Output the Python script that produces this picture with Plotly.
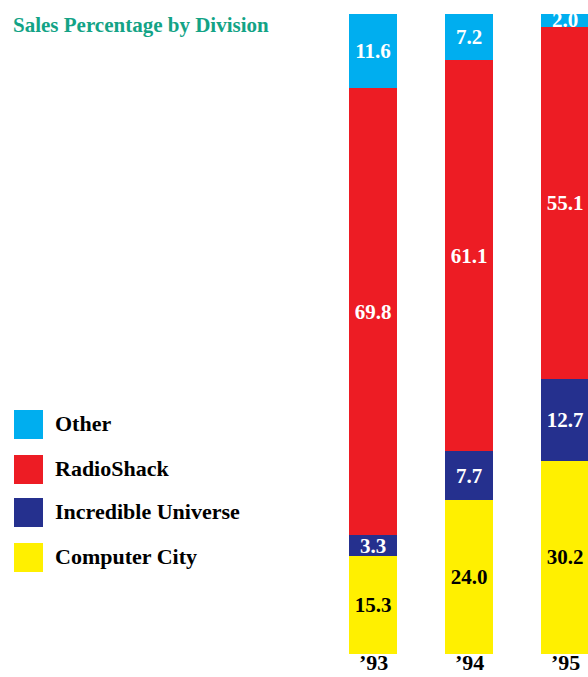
import plotly.graph_objects as go

years = ["’93", "’94", "’95"]
computer_city = [15.3, 24.0, 30.2]
incredible_universe = [3.3, 7.7, 12.7]
radioshack = [69.8, 61.1, 55.1]
other = [11.6, 7.2, 2.0]

series = [
    ("Computer City", computer_city, "#fff000", "black"),
    ("Incredible Universe", incredible_universe, "#25308e", "white"),
    ("RadioShack", radioshack, "#ed1c24", "white"),
    ("Other", other, "#00aeef", "white"),
]

FONT = "Liberation Serif, Times New Roman, serif"
W, H = 588, 677
T, B = 14, 23
plot_h = H - T - B

xs = list(range(len(years)))
fig = go.Figure()
for name, vals, color, tcolor in series:
    fig.add_trace(go.Bar(
        x=xs, y=vals, name=name, width=0.5,
        marker=dict(color=color, line=dict(width=0)),
        text=[f"{v:.1f}" for v in vals],
        textposition="inside", insidetextanchor="middle",
        constraintext="none",
        textfont=dict(family=FONT, size=21, color=tcolor, weight="bold"),
        cliponaxis=True, showlegend=False, hoverinfo="skip",
    ))

def py(p):
    return (H - B - p) / plot_h

# legend (drawn manually)
legend_items = [("Other", "#00aeef", 410), ("RadioShack", "#ed1c24", 455),
                ("Incredible Universe", "#25308e", 498), ("Computer City", "#fff000", 543)]
shapes = []
annotations = []
for name, color, top in legend_items:
    shapes.append(dict(type="rect", xref="paper", yref="paper",
                       x0=14 / W, x1=43 / W, y0=py(top + 29), y1=py(top),
                       fillcolor=color, line=dict(width=0)))
    annotations.append(dict(text=name, xref="paper", yref="paper",
                            x=53 / W, y=py(top + 13), xanchor="left", yanchor="middle",
                            showarrow=False,
                            font=dict(family=FONT, size=22, color="black", weight="bold")))

annotations.append(dict(text="Sales Percentage by Division", xref="paper", yref="paper",
                        x=11 / W, y=py(25), xanchor="left", yanchor="middle", showarrow=False,
                        font=dict(family=FONT, size=21, color="#13a386", weight="bold")))

# category labels under the bars
for xv, lab in zip(xs, years):
    annotations.append(dict(text=lab, xref="x", yref="paper", x=xv, y=py(677),
                            xanchor="center", yanchor="bottom", showarrow=False,
                            font=dict(family=FONT, size=22, color="black", weight="bold")))

unit = 96
fig.update_layout(
    barmode="stack", width=W, height=H,
    margin=dict(l=0, r=0, t=T, b=B, pad=0),
    paper_bgcolor="white", plot_bgcolor="white",
    xaxis=dict(range=[-373 / unit, (W - 373) / unit], showticklabels=False,
               showgrid=False, zeroline=False, showline=False, ticks="", automargin=False),
    yaxis=dict(range=[0, 100], visible=False, showgrid=False, zeroline=False, automargin=False),
    shapes=shapes, annotations=annotations,
)
fig.write_html("out.html")
